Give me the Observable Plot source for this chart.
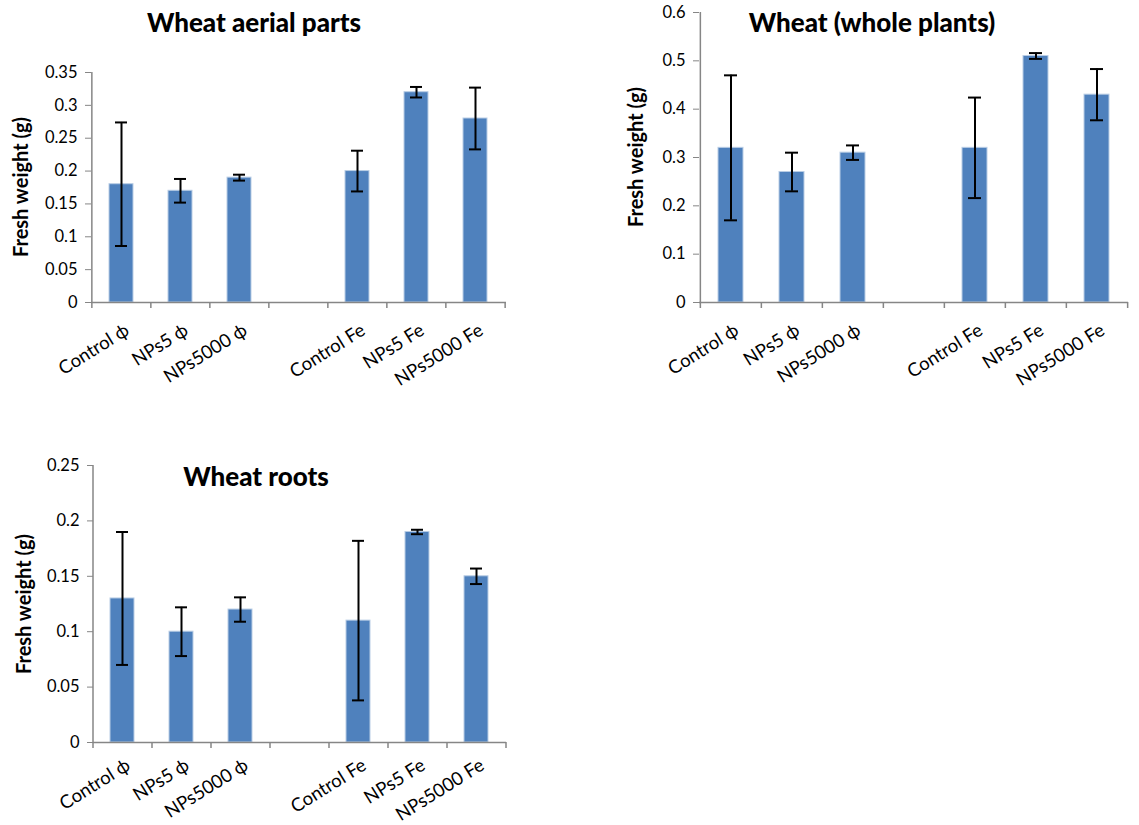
<!DOCTYPE html>
<html><head><meta charset="utf-8">
<script src="https://cdn.jsdelivr.net/npm/d3@7"></script>
<script src="https://cdn.jsdelivr.net/npm/@observablehq/plot@0.6"></script>
<style>
body{margin:0;background:#fff;font-family:Lato,"Open Sans",sans-serif}
#wrap{position:relative;width:1139px;height:825px;overflow:hidden}
.panel{position:absolute}
.title{position:absolute;transform:translate(-50%,-50%);font:900 26px Lato,sans-serif;color:#000;white-space:nowrap}
.ylabel{position:absolute;transform:translate(-50%,-50%) rotate(-90deg);font:bold 20px Lato,sans-serif;color:#000;white-space:nowrap;line-height:1}
</style></head>
<body><div id="wrap"></div>
<script>
// Categories (the blank one is the gap Excel left between the two groups)
const categories = ["Control ϕ","NPs5 ϕ","NPs5000 ϕ","","Control Fe","NPs5 Fe","NPs5000 Fe"];
const treatments = ["Control ϕ","NPs5 ϕ","NPs5000 ϕ","Control Fe","NPs5 Fe","NPs5000 Fe"];

const aerialMean = [0.18, 0.17, 0.19, 0.20, 0.32, 0.28];
const aerialErr  = [0.094, 0.018, 0.0045, 0.031, 0.008, 0.047];
const wholeMean  = [0.32, 0.27, 0.31, 0.32, 0.51, 0.43];
const wholeErr   = [0.15, 0.04, 0.015, 0.104, 0.006, 0.053];
const rootsMean  = [0.13, 0.10, 0.12, 0.11, 0.19, 0.15];
const rootsErr   = [0.06, 0.022, 0.011, 0.072, 0.002, 0.007];

const aerialTicks = [0, 0.05, 0.1, 0.15, 0.2, 0.25, 0.3, 0.35];
const wholeTicks  = [0, 0.1, 0.2, 0.3, 0.4, 0.5, 0.6];
const rootsTicks  = [0, 0.05, 0.1, 0.15, 0.2, 0.25];

const titles = ["Wheat aerial parts", "Wheat (whole plants)", "Wheat roots"];
const yLabel = "Fresh weight (g)";

const AXIS = "#868686";
const BAR = "#4F81BD";
const FONT = "Lato, 'Open Sans', sans-serif";
const wrap = document.getElementById("wrap");

function addText(cls, text, x, y) {
  const d = document.createElement("div");
  d.className = cls;
  d.textContent = text;
  d.style.left = x + "px";
  d.style.top = y + "px";
  wrap.appendChild(d);
}

function panel({title, means, errs, yTicks, left, top, width, height, ml, mr, mt, mb, titleX, titleY, labelX, pad}) {
  const rows = treatments.map((t, i) => ({cat: t, mean: means[i], err: errs[i]}));
  const step = (width - ml - mr) / categories.length;
  const yMax = yTicks[yTicks.length - 1];
  const p = Plot.plot({
    width, height,
    marginLeft: ml, marginRight: mr, marginTop: mt, marginBottom: mb,
    style: {fontFamily: FONT, background: "transparent", overflow: "visible"},
    x: {domain: categories, paddingInner: 0.59, paddingOuter: 0.295, axis: null},
    y: {domain: [0, yMax], axis: null},
    marks: [
      Plot.barY(rows, {x: "cat", y: "mean", fill: BAR, stroke: "#b9cde5", strokeWidth: 1}),
      Plot.ruleX([categories[0]], {dx: -step / 2, stroke: AXIS, strokeWidth: 1.5}),
      Plot.ruleY([0], {stroke: AXIS, strokeWidth: 1.5}),
      Plot.ruleX(categories, {x: d => d, y1: 0, y2: 0, insetBottom: -6, dx: -step / 2, stroke: AXIS, strokeWidth: 1.5}),
      Plot.ruleX([categories[categories.length - 1]], {y1: 0, y2: 0, insetBottom: -6, dx: step / 2, stroke: AXIS, strokeWidth: 1.5}),
      Plot.axisY({ticks: yTicks, tickSize: 6, tickPadding: 8, tickFormat: d => String(+d.toFixed(3)), fontSize: 16.5, stroke: AXIS, fill: "#000", label: null}),
      Plot.axisX({ticks: categories, tickSize: 0, tickPadding: pad, tickRotate: -32, dx: 6, fontSize: 18.5, fill: "#000", label: null}),
      Plot.ruleX(rows, {x: "cat", y1: d => d.mean - d.err, y2: d => d.mean + d.err, stroke: "#000", strokeWidth: 2}),
      Plot.tickY(rows, {x: "cat", y: d => d.mean + d.err, insetLeft: 6, insetRight: 6, stroke: "#000", strokeWidth: 2}),
      Plot.tickY(rows, {x: "cat", y: d => d.mean - d.err, insetLeft: 6, insetRight: 6, stroke: "#000", strokeWidth: 2})
    ]
  });
  p.classList.add("panel");
  p.style.left = left + "px";
  p.style.top = top + "px";
  wrap.appendChild(p);
  addText("title", title, titleX, titleY);
  addText("ylabel", yLabel, labelX, top + (mt + height - mb) / 2);
}

panel({title: titles[0], means: aerialMean, errs: aerialErr, yTicks: aerialTicks,
  left: 0, top: 0, width: 540, height: 400, ml: 91, mr: 34, mt: 72, mb: 98,
  titleX: 254, titleY: 22, labelX: 20, pad: 26});
panel({title: titles[1], means: wholeMean, errs: wholeErr, yTicks: wholeTicks,
  left: 600, top: 0, width: 539, height: 400, ml: 99, mr: 11, mt: 12, mb: 98,
  titleX: 872, titleY: 22, labelX: 635, pad: 26});
panel({title: titles[2], means: rootsMean, errs: rootsErr, yTicks: rootsTicks,
  left: 0, top: 430, width: 540, height: 395, ml: 93, mr: 34, mt: 35, mb: 83,
  titleX: 256, titleY: 476, labelX: 23, pad: 21});
</script>
</body></html>
